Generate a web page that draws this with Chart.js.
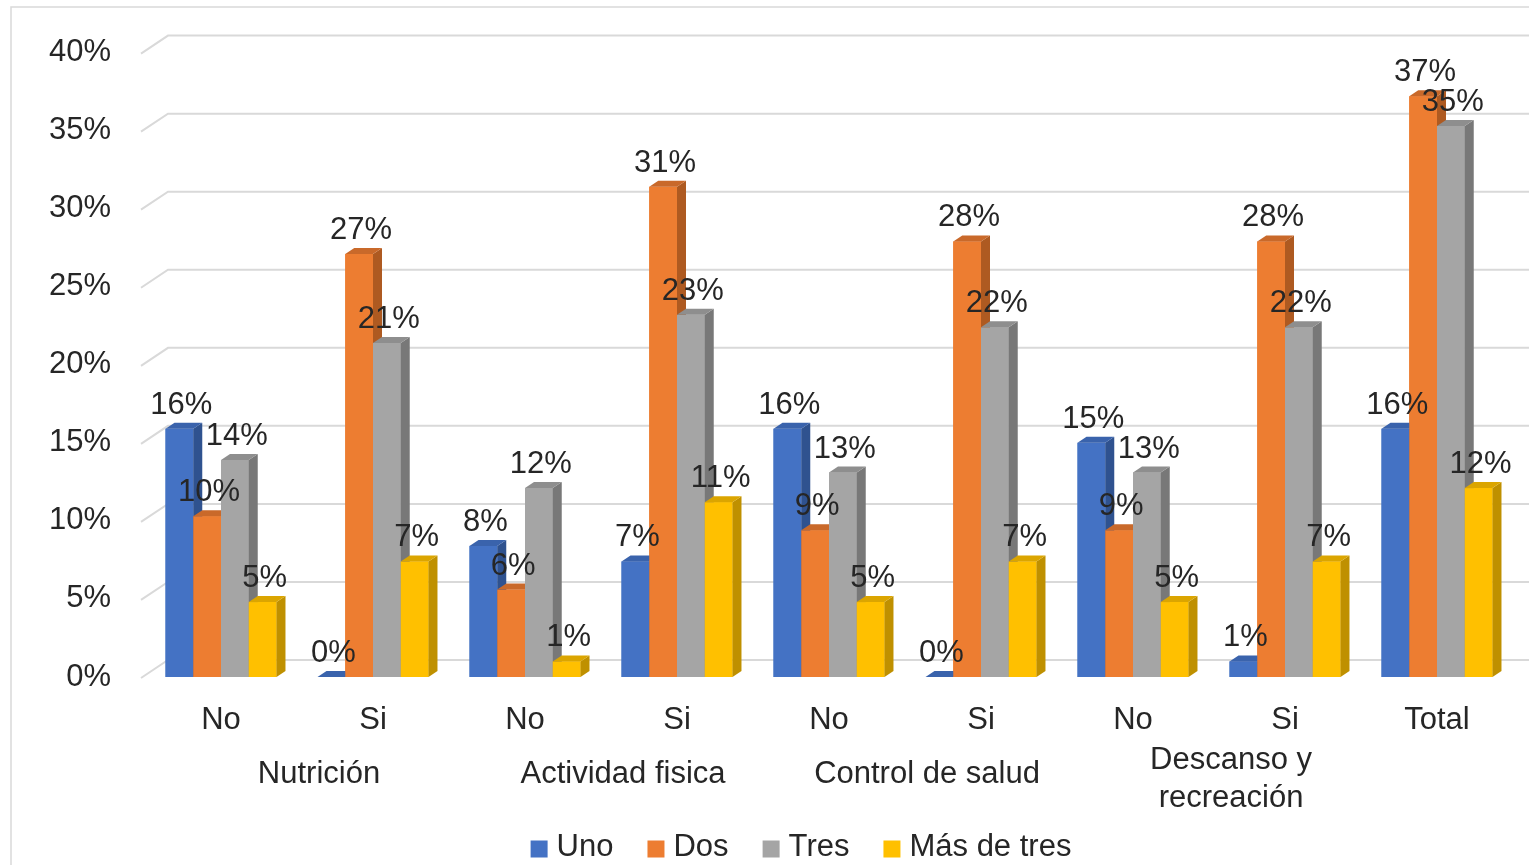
<!DOCTYPE html>
<html>
<head>
<meta charset="utf-8">
<script src="https://cdn.jsdelivr.net/npm/chart.js@4.4.1/dist/chart.umd.min.js"></script>
<style>
  html, body { margin: 0; padding: 0; background: #fff; }
  #wrap { width: 1529px; height: 865px; position: relative; }
</style>
</head>
<body>
<div id="wrap"><canvas id="chart"></canvas></div>
<script>
// data
const categories = ['No', 'Si', 'No', 'Si', 'No', 'Si', 'No', 'Si', 'Total'];
const groupLabels = [['Nutrición'], ['Actividad fisica'], ['Control de salud'], ['Descanso y', 'recreación']];
const groupSpans = [[0, 1], [2, 3], [4, 5], [6, 7]];
const seriesNames = ['Uno', 'Dos', 'Tres', 'Más de tres'];
const uno  = [15.9, 0, 8.4, 7.4, 15.9, 0, 15.0, 1.0, 15.9];
const dos  = [10.3, 27.1, 5.6, 31.4, 9.4, 27.9, 9.4, 27.9, 37.2];
const tres = [13.9, 21.4, 12.1, 23.2, 13.1, 22.4, 13.1, 22.4, 35.3];
const mas  = [4.8, 7.4, 1.0, 11.2, 4.8, 7.4, 4.8, 7.4, 12.1];
const yMax = 40, yStep = 5;

// look
const FONT = '"Liberation Sans", Arial, sans-serif';
const TXT = '#262626';
const frontColors = ['#4472C4', '#ED7D31', '#A5A5A5', '#FFC000'];
const sideColors  = ['#2F528F', '#AE5A21', '#787878', '#BF9000'];
const topColors   = ['#3A63AC', '#C9692A', '#8E8E8E', '#DBA500'];
const DX = 9, DY = -6;        // bar depth
const GX = 25, GY = -17;      // back wall offset for gridlines
const GROUP_DX = 22;
const LEGEND_CX = 801, LEGEND_Y = 847;

const el = id => document.getElementById(id);

const frame = {
  id: 'frame',
  beforeDraw(chart){
    const ctx = chart.ctx;
    ctx.save();
    ctx.strokeStyle = '#d9d9d9';
    ctx.lineWidth = 1.5;
    ctx.strokeRect(11, 7, chart.width + 20, chart.height + 20);
    ctx.restore();
  }
};

const grid3d = {
  id: 'grid3d',
  beforeDatasetsDraw(chart){
    const {ctx, chartArea} = chart;
    const ys = chart.scales.y;
    ctx.save();
    ctx.strokeStyle = '#d9d9d9';
    ctx.lineWidth = 2;
    ys.ticks.forEach(t => {
      const py = ys.getPixelForValue(t.value);
      ctx.beginPath();
      ctx.moveTo(chartArea.left - 4, py + 1);
      ctx.lineTo(chartArea.left + GX - 2, py + GY);
      ctx.lineTo(chartArea.right + GX + 40, py + GY);
      ctx.stroke();
    });
    ctx.restore();
  }
};

const bars3d = {
  id: 'bars3d',
  afterDatasetsDraw(chart){
    const ctx = chart.ctx;
    ctx.save();
    chart.data.datasets.forEach((ds, i) => {
      const meta = chart.getDatasetMeta(i);
      meta.data.forEach(bar => {
        const {x, y, base, width} = bar.getProps(['x', 'y', 'base', 'width'], true);
        const l = x - width / 2, r = x + width / 2;
        ctx.fillStyle = frontColors[i];
        ctx.fillRect(l, y, width, base - y);
        ctx.fillStyle = sideColors[i];
        ctx.beginPath();
        ctx.moveTo(r, y); ctx.lineTo(r + DX, y + DY); ctx.lineTo(r + DX, base + DY); ctx.lineTo(r, base);
        ctx.closePath(); ctx.fill();
        ctx.fillStyle = topColors[i];
        ctx.beginPath();
        ctx.moveTo(l, y); ctx.lineTo(l + DX, y + DY); ctx.lineTo(r + DX, y + DY); ctx.lineTo(r, y);
        ctx.closePath(); ctx.fill();
      });
    });
    // value labels on top
    ctx.font = '31px ' + FONT;
    ctx.fillStyle = TXT;
    ctx.textAlign = 'center';
    ctx.textBaseline = 'alphabetic';
    chart.data.datasets.forEach((ds, i) => {
      const meta = chart.getDatasetMeta(i);
      meta.data.forEach((bar, j) => {
        const {x, y} = bar.getProps(['x', 'y'], true);
        ctx.fillText(Math.round(ds.data[j]) + '%', x + 2, y - 15);
      });
    });
    ctx.restore();
  }
};

const extras = {
  id: 'extras',
  afterDraw(chart){
    const ctx = chart.ctx;
    const xs = chart.scales.x;
    ctx.save();
    ctx.font = '31px ' + FONT;
    ctx.fillStyle = TXT;
    ctx.textAlign = 'center';
    ctx.textBaseline = 'middle';
    // second row of category labels
    groupLabels.forEach((lines, g) => {
      const cx = (xs.getPixelForValue(groupSpans[g][0]) + xs.getPixelForValue(groupSpans[g][1])) / 2 + GROUP_DX;
      if(lines.length === 1){
        ctx.fillText(lines[0], cx, 774);
      } else {
        lines.forEach((s, k) => ctx.fillText(s, cx, 760 + k * 38));
      }
    });
    // legend
    const box = 17, gapBox = 9, gapItem = 34;
    const widths = seriesNames.map(n => box + gapBox + ctx.measureText(n).width);
    const total = widths.reduce((a, b) => a + b, 0) + gapItem * (widths.length - 1);
    let lx = LEGEND_CX - total / 2;
    ctx.textAlign = 'left';
    seriesNames.forEach((n, i) => {
      ctx.fillStyle = frontColors[i];
      ctx.fillRect(lx, LEGEND_Y - box / 2 + 2, box, box);
      ctx.fillStyle = TXT;
      ctx.fillText(n, lx + box + gapBox, LEGEND_Y);
      lx += widths[i] + gapItem;
    });
    ctx.restore();
  }
};

const datasets = [uno, dos, tres, mas].map((d, i) => ({
  label: seriesNames[i],
  data: d,
  backgroundColor: frontColors[i],
  borderWidth: 0,
  barPercentage: 1,
  categoryPercentage: 0.73
}));

new Chart(el('chart'), {
  type: 'bar',
  data: { labels: categories, datasets },
  options: {
    responsive: true,
    maintainAspectRatio: false,
    animation: false,
    devicePixelRatio: 1,
    layout: { padding: { top: 46, right: 16, left: 0, bottom: 0 } },
    plugins: { legend: { display: false }, tooltip: { enabled: false } },
    scales: {
      x: {
        grid: { display: false, drawTicks: false },
        border: { display: false },
        ticks: { color: TXT, font: { size: 31, family: FONT }, padding: 25, maxRotation: 0, autoSkip: false },
        afterFit: s => { s.height = 188; }
      },
      y: {
        min: 0, max: yMax,
        grid: { display: false, drawTicks: false },
        border: { display: false },
        ticks: { stepSize: yStep, color: TXT, font: { size: 31, family: FONT }, padding: 34, callback: v => v + '%' },
        afterFit: s => { s.width = 145; }
      }
    }
  },
  plugins: [frame, grid3d, bars3d, extras]
});
</script>
</body>
</html>
